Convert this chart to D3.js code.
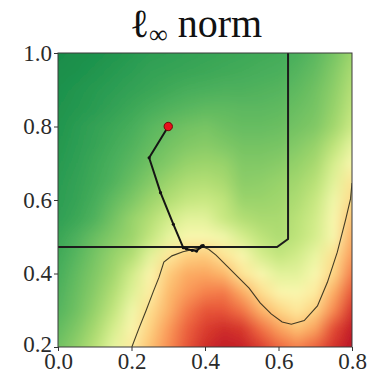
<!DOCTYPE html>
<html>
<head>
<meta charset="utf-8">
<script src="https://cdn.jsdelivr.net/npm/d3@7"></script>
<style>
  html, body { margin: 0; padding: 0; background: #fff; }
  svg { display: block; }
</style>
</head>
<body>
<svg id="chart" width="367" height="375"></svg>
<script>
// ---- data ----
const titleMain = "ℓ";
const titleSub = "∞";
const titleRest = " norm";
const xTicks = [0.0, 0.2, 0.4, 0.6, 0.8];
const yTicks = [0.2, 0.4, 0.6, 0.8, 1.0];

// heat-map grid (RdYlGn colormap position, 0 = red, 1 = green)
const gridX = [0, 0.05, 0.1, 0.15, 0.2, 0.25, 0.3, 0.35, 0.4, 0.45, 0.5, 0.55, 0.6, 0.65, 0.7, 0.75, 0.8];
const gridY = [1.0, 0.95, 0.9, 0.85, 0.8, 0.75, 0.7, 0.65, 0.6, 0.55, 0.5, 0.45, 0.4, 0.35, 0.3, 0.25, 0.2];
const gridValues = [
  [0.92,0.915,0.91,0.90,0.89,0.88,0.875,0.87,0.865,0.86,0.855,0.85,0.845,0.835,0.81,0.77,0.71],
  [0.915,0.91,0.90,0.89,0.88,0.87,0.865,0.86,0.855,0.85,0.845,0.84,0.835,0.82,0.795,0.75,0.685],
  [0.91,0.90,0.89,0.88,0.87,0.86,0.85,0.84,0.835,0.83,0.83,0.825,0.82,0.805,0.78,0.735,0.665],
  [0.905,0.895,0.885,0.87,0.855,0.84,0.825,0.815,0.805,0.805,0.81,0.81,0.805,0.79,0.77,0.72,0.645],
  [0.90,0.885,0.87,0.855,0.84,0.815,0.795,0.78,0.77,0.785,0.795,0.795,0.79,0.775,0.755,0.70,0.62],
  [0.895,0.88,0.865,0.845,0.825,0.80,0.775,0.755,0.745,0.76,0.775,0.775,0.77,0.75,0.72,0.65,0.56],
  [0.89,0.875,0.855,0.835,0.81,0.78,0.75,0.72,0.71,0.72,0.755,0.755,0.745,0.725,0.69,0.60,0.50],
  [0.885,0.87,0.85,0.825,0.79,0.75,0.71,0.68,0.67,0.69,0.74,0.735,0.72,0.70,0.66,0.57,0.42],
  [0.88,0.865,0.84,0.80,0.76,0.71,0.67,0.635,0.625,0.65,0.715,0.715,0.705,0.68,0.63,0.53,0.39],
  [0.875,0.855,0.825,0.775,0.72,0.67,0.61,0.57,0.57,0.63,0.67,0.69,0.69,0.66,0.61,0.50,0.34],
  [0.86,0.83,0.79,0.75,0.71,0.64,0.56,0.50,0.50,0.53,0.60,0.65,0.68,0.65,0.60,0.50,0.30],
  [0.85,0.815,0.77,0.72,0.67,0.57,0.43,0.37,0.36,0.42,0.50,0.60,0.64,0.61,0.55,0.41,0.27],
  [0.84,0.80,0.755,0.70,0.61,0.48,0.36,0.30,0.29,0.32,0.42,0.50,0.57,0.57,0.50,0.38,0.22],
  [0.83,0.79,0.74,0.67,0.58,0.45,0.33,0.27,0.23,0.22,0.30,0.40,0.48,0.50,0.44,0.30,0.16],
  [0.82,0.78,0.72,0.64,0.53,0.40,0.31,0.22,0.16,0.16,0.21,0.31,0.38,0.43,0.37,0.24,0.10],
  [0.80,0.755,0.69,0.60,0.48,0.37,0.27,0.18,0.12,0.09,0.11,0.20,0.28,0.34,0.28,0.14,0.06],
  [0.78,0.73,0.66,0.56,0.44,0.34,0.25,0.16,0.09,0.06,0.07,0.12,0.19,0.23,0.18,0.10,0.04]
];

// decision-boundary contour
const contourX = [0.201,0.22,0.24,0.259,0.275,0.288,0.31,0.34,0.37,0.395,0.41,0.43,0.46,0.49,0.52,0.55,0.58,0.61,0.635,0.67,0.706,0.733,0.76,0.783,0.796,0.80];
const contourY = [0.20,0.25,0.30,0.35,0.39,0.431,0.448,0.459,0.466,0.472,0.466,0.45,0.42,0.39,0.36,0.32,0.29,0.268,0.262,0.272,0.312,0.376,0.458,0.548,0.603,0.646];

// l-infinity ball boundary
const boxX = [-0.05, 0.596, 0.626, 0.626];
const boxY = [0.472, 0.472, 0.494, 1.05];

// attack path
const pathX = [0.300,0.248,0.279,0.314,0.341,0.350,0.365,0.377,0.391,0.385,0.395,0.388];
const pathY = [0.800,0.715,0.620,0.534,0.470,0.467,0.463,0.461,0.475,0.470,0.476,0.472];

// ---- layout ----
const svg = d3.select("#chart");
const margin = {left: 58, top: 53, right: 15, bottom: 28};
const W = 367, H = 375;
const x = d3.scaleLinear().domain([0, 0.8]).range([margin.left, W - margin.right]);
const y = d3.scaleLinear().domain([0.2, 1.0]).range([H - margin.bottom, margin.top]);
const color = d3.scaleSequential(d3.interpolateRdYlGn).domain([0, 1]);

const defs = svg.append("defs");
defs.append("clipPath").attr("id", "plotclip")
  .append("rect")
  .attr("x", x(0)).attr("y", y(1.0))
  .attr("width", x(0.8) - x(0)).attr("height", y(0.2) - y(1.0));
const blur = defs.append("filter").attr("id", "soft")
  .attr("x", "-5%").attr("y", "-5%").attr("width", "110%").attr("height", "110%");
blur.append("feGaussianBlur").attr("stdDeviation", 3).attr("edgeMode", "duplicate");

// heat map via small canvas, smoothed by browser scaling
const nC = gridX.length, nR = gridY.length;
const cv = document.createElement("canvas");
cv.width = nC; cv.height = nR;
const ctx = cv.getContext("2d");
gridValues.forEach((row, r) => {
  row.forEach((v, c) => {
    ctx.fillStyle = color(v);
    ctx.fillRect(c, r, 1, 1);
  });
});
const dx = gridX[1] - gridX[0];
const dy = gridY[0] - gridY[1];
const plot = svg.append("g").attr("clip-path", "url(#plotclip)");
plot.append("image")
  .attr("href", cv.toDataURL())
  .attr("x", x(gridX[0] - dx / 2))
  .attr("y", y(gridY[0] + dy / 2))
  .attr("width", x(gridX[nC - 1] + dx / 2) - x(gridX[0] - dx / 2))
  .attr("height", y(gridY[nR - 1] - dy / 2) - y(gridY[0] + dy / 2))
  .attr("preserveAspectRatio", "none")
  .attr("filter", "url(#soft)");

const line = d3.line().x(d => x(d[0])).y(d => y(d[1]));

plot.append("path")
  .datum(contourX.map((v, i) => [v, contourY[i]]))
  .attr("d", line)
  .attr("fill", "none")
  .attr("stroke", "#2e2a1a")
  .attr("stroke-opacity", 0.9)
  .attr("stroke-width", 1.1);

plot.append("path")
  .datum(boxX.map((v, i) => [v, boxY[i]]))
  .attr("d", line)
  .attr("fill", "none")
  .attr("stroke", "#1c1c1c")
  .attr("stroke-width", 2);

const pathPts = pathX.map((v, i) => [v, pathY[i]]);
plot.append("path")
  .datum(pathPts)
  .attr("d", line)
  .attr("fill", "none")
  .attr("stroke", "#151515")
  .attr("stroke-width", 2)
  .attr("stroke-linejoin", "round");
plot.selectAll("circle.step")
  .data(pathPts.slice(1))
  .enter().append("circle")
  .attr("class", "step")
  .attr("cx", d => x(d[0])).attr("cy", d => y(d[1]))
  .attr("r", 1.6).attr("fill", "#111");
plot.append("circle")
  .attr("cx", x(pathX[0])).attr("cy", y(pathY[0]))
  .attr("r", 4.2)
  .attr("fill", "#e8111b")
  .attr("stroke", "#6a0000")
  .attr("stroke-width", 0.9);

// frame
svg.append("rect")
  .attr("x", x(0)).attr("y", y(1.0))
  .attr("width", x(0.8) - x(0)).attr("height", y(0.2) - y(1.0))
  .attr("fill", "none").attr("stroke", "#3a3a3a").attr("stroke-width", 1);

// axes
const fontFam = "'Liberation Serif', 'DejaVu Serif', serif";
const xAxis = svg.append("g").attr("transform", `translate(0,${y(0.2)})`)
  .call(d3.axisBottom(x).tickValues(xTicks).tickFormat(d3.format(".1f")).tickSize(4).tickPadding(2));
const yAxis = svg.append("g").attr("transform", `translate(${x(0)},0)`)
  .call(d3.axisLeft(y).tickValues(yTicks).tickFormat(d3.format(".1f")).tickSize(4).tickPadding(2));
[xAxis, yAxis].forEach(a => {
  a.select(".domain").remove();
  a.selectAll(".tick line").attr("stroke", "#333");
  a.selectAll(".tick text").attr("fill", "#2a2a2a")
    .style("font-family", fontFam).style("font-size", "23px");
});
// bottom y label nudged up slightly so it doesn't collide with the first x label
yAxis.selectAll(".tick").filter(d => d === 0.2).select("text").attr("dy", "0.2em");

// title
const t = svg.append("text")
  .attr("x", 196).attr("y", 37)
  .attr("text-anchor", "middle")
  .style("font-family", fontFam)
  .style("font-size", "40px")
  .attr("fill", "#111");
t.append("tspan").text(titleMain);
t.append("tspan").attr("dy", 6).style("font-size", "26px").text(titleSub);
t.append("tspan").attr("dy", -6).text(titleRest);
</script>
</body>
</html>
